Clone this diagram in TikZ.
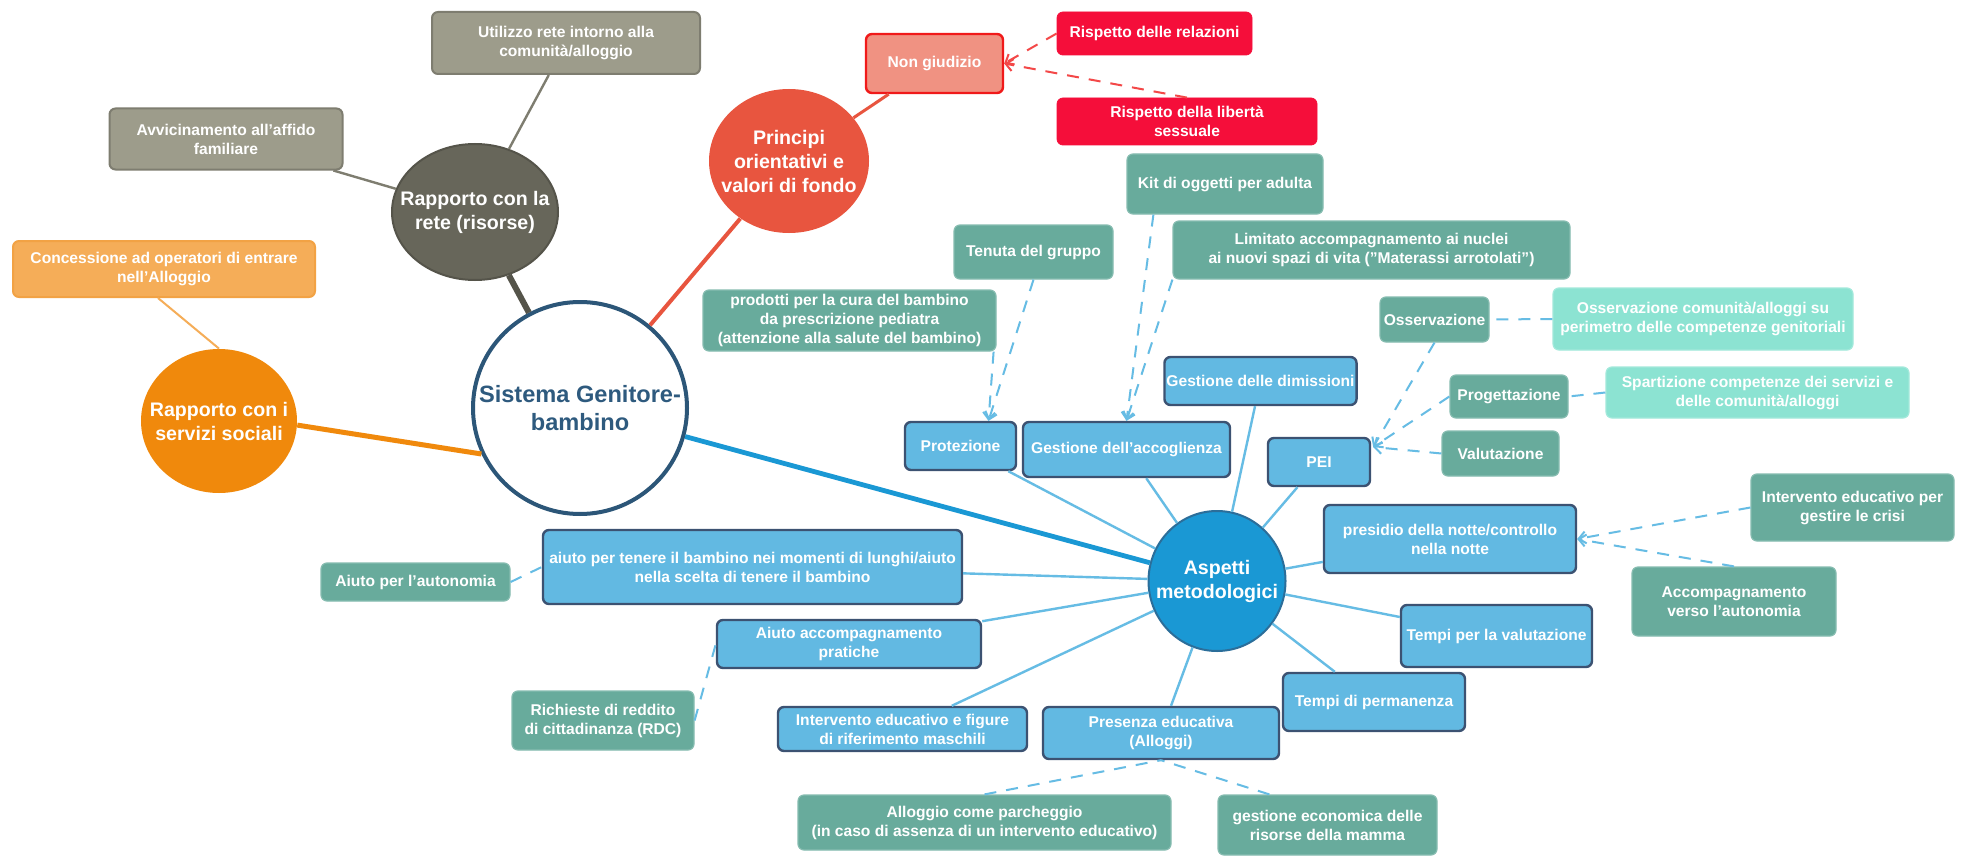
\documentclass[tikz,border=0pt]{standalone}
\usepackage{fontspec}
\setmainfont{Liberation Sans}
\usetikzlibrary{shapes.geometric, arrows.meta, calc}

\definecolor{GreyBox}{HTML}{9D9C8B}
\definecolor{GreyLine}{HTML}{7E7D70}
\definecolor{ReteFill}{HTML}{67665A}
\definecolor{ReteLine}{HTML}{55544A}
\definecolor{MapOrange}{HTML}{F0890C}
\definecolor{OrangeBox}{HTML}{F5AD58}
\definecolor{OrangeLine}{HTML}{F2A244}
\definecolor{PrincipiRed}{HTML}{E8553F}
\definecolor{Salmon}{HTML}{F09282}
\definecolor{SalmonLine}{HTML}{F01A1A}
\definecolor{Crimson}{HTML}{F50E3A}
\definecolor{Teal}{HTML}{68AB9C}
\definecolor{Aqua}{HTML}{8CE3D2}
\definecolor{BlueBox}{HTML}{62B9E2}
\definecolor{BlueLine}{HTML}{3C5272}
\definecolor{BlueLink}{HTML}{66BCE4}
\definecolor{AspettiBlue}{HTML}{1A98D4}
\definecolor{AspettiLine}{HTML}{2B6E9A}
\definecolor{SistemaLine}{HTML}{2C5678}
\definecolor{SistemaText}{HTML}{2E5A7E}

\begin{document}
\begin{tikzpicture}[x=0.5pt, y=-0.5pt,
    boxsize/.style 2 args={minimum width=#1*0.5pt, minimum height=#2*0.5pt},
    topic/.style={ellipse},
    topictext/.style={align=center, text=white, inner sep=0pt, font=\bfseries\fontsize{9.8}{12}\selectfont},
    leaf/.style={rectangle, rounded corners=3pt, align=center, text=white, inner sep=1pt, font=\bfseries\fontsize{7.8}{9.5}\selectfont},
    greybox/.style={leaf, fill=GreyBox, draw=GreyLine, line width=1pt},
    orangebox/.style={leaf, fill=OrangeBox, draw=OrangeLine, line width=1pt},
    redbox/.style={leaf, fill=Crimson, draw=Crimson},
    tealbox/.style={leaf, fill=Teal, draw=Teal!80!white, line width=0.6pt},
    aquabox/.style={leaf, fill=Aqua, draw=Aqua!80!white, line width=0.6pt},
    bluebox/.style={leaf, fill=BlueBox, draw=BlueLine, line width=1.2pt},
    spoke/.style={BlueLink, line width=1.2pt},
    dashspoke/.style={BlueLink, line width=1pt, dash pattern=on 6pt off 5pt},
    pointed/.style={-{Straight Barb[length=3.5pt, width=6pt]}}
  ]
  \fill[white] (0,0) rectangle (1965,856);
  \useasboundingbox (0,0) rectangle (1965,856);

  % Define centre
  \node[topic, draw=SistemaLine, line width=2pt, fill=white, boxsize={214}{212}] (Sistema) at (580,408) {};
  \node[topictext, text=SistemaText, font=\bfseries\fontsize{11.8}{14}\selectfont] (SistemaText) at (Sistema.center) {Sistema Genitore-\\bambino};

  % Define rete
  \node[topic, fill=ReteFill, draw=ReteLine, line width=1pt, boxsize={166}{136}] (Rete) at (475,212) {};
  \node[topictext] (ReteText) at (Rete.center) {Rapporto con la\\rete (risorse)};
  \node[greybox, boxsize={268}{62}] (Utilizzo) at (566,43) {Utilizzo rete intorno alla\\comunità/alloggio};
  \node[greybox, boxsize={233}{61}] (Avvicinamento) at (226,139) {Avvicinamento all'affido\\familiare};

  % Define servizi sociali
  \node[topic, fill=MapOrange, boxsize={156}{144}] (Servizi) at (219,421) {};
  \node[topictext] (ServiziText) at (Servizi.center) {Rapporto con i\\servizi sociali};
  \node[orangebox, boxsize={302}{56}] (Concessione) at (164,269) {Concessione ad operatori di entrare\\nell'Alloggio};

  % Define principi
  \node[topic, fill=PrincipiRed, boxsize={160}{144}] (Principi) at (789,161) {};
  \node[topictext] (PrincipiText) at (Principi.center) {Principi\\orientativi e\\valori di fondo};
  \node[leaf, fill=Salmon, draw=SalmonLine, line width=1.2pt, boxsize={137}{59}] (NonGiudizio) at (934.5,63.5) {Non giudizio};
  \node[redbox, boxsize={195}{43}] (RispRelazioni) at (1154.5,33.5) {Rispetto delle relazioni};
  \node[redbox, boxsize={260}{47}] (RispLiberta) at (1187,121.5) {Rispetto della libertà\\sessuale};

  % Define aspetti metodologici
  \node[topic, fill=AspettiBlue, draw=AspettiLine, line width=1pt, boxsize={137}{140}] (Aspetti) at (1217,581) {};
  \node[topictext] (AspettiText) at (Aspetti.center) {Aspetti\\metodologici};

  \node[bluebox, boxsize={111}{48}] (Protezione) at (960.5,446) {Protezione};
  \node[bluebox, boxsize={207}{55}] (Accoglienza) at (1126.5,449.5) {Gestione dell'accoglienza};
  \node[bluebox, boxsize={191}{48}] (Dimissioni) at (1260.5,381) {Gestione delle dimissioni};
  \node[bluebox, boxsize={102}{48}] (PEI) at (1319,462) {PEI};
  \node[bluebox, boxsize={252}{68}] (Presidio) at (1450,539) {presidio della notte/controllo\\nella notte};
  \node[bluebox, boxsize={191}{62}] (TempiVal) at (1496.5,636) {Tempi per la valutazione};
  \node[bluebox, boxsize={182}{58}] (TempiPerm) at (1374,702) {Tempi di permanenza};
  \node[bluebox, boxsize={236}{52}] (Presenza) at (1161,733) {Presenza educativa\\(Alloggi)};
  \node[bluebox, boxsize={249}{44}] (InterventoFig) at (902.5,729) {Intervento educativo e figure\\di riferimento maschili};
  \node[bluebox, boxsize={264}{48}] (AiutoAccomp) at (849,644) {Aiuto accompagnamento\\pratiche};
  \node[bluebox, boxsize={419}{74}] (AiutoTenere) at (752.5,567) {aiuto per tenere il bambino nei momenti di lunghi/aiuto\\nella scelta di tenere il bambino};

  % Define leaves of the blue boxes
  \node[tealbox, boxsize={196}{60}] (Kit) at (1225,184) {Kit di oggetti per adulta};
  \node[tealbox, boxsize={159}{54}] (Tenuta) at (1033.5,252) {Tenuta del gruppo};
  \node[tealbox, boxsize={397}{58}] (Limitato) at (1371.5,250) {Limitato accompagnamento ai nuclei\\ai nuovi spazi di vita ("Materassi arrotolati")};
  \node[tealbox, boxsize={293}{61}] (Prodotti) at (849.5,320.5) {prodotti per la cura del bambino\\da prescrizione pediatra\\(attenzione alla salute del bambino)};
  \node[tealbox, boxsize={109}{45}] (Osservazione) at (1434.5,319.5) {Osservazione};
  \node[tealbox, boxsize={118}{43}] (Progettazione) at (1509,396.5) {Progettazione};
  \node[tealbox, boxsize={117}{45}] (Valutazione) at (1500.5,453.5) {Valutazione};
  \node[aquabox, boxsize={300}{62}] (OssComunita) at (1703,319) {Osservazione comunità/alloggi su\\perimetro delle competenze genitoriali};
  \node[aquabox, boxsize={303}{51}] (Spartizione) at (1757.5,392.5) {Spartizione competenze dei servizi e\\delle comunità/alloggi};
  \node[tealbox, boxsize={203}{67}] (GestCrisi) at (1852.5,507.5) {Intervento educativo per\\gestire le crisi};
  \node[tealbox, boxsize={204}{69}] (AccAutonomia) at (1734,601.5) {Accompagnamento\\verso l'autonomia};
  \node[tealbox, boxsize={189}{38}] (AiutoAutonomia) at (415.5,582) {Aiuto per l'autonomia};
  \node[tealbox, boxsize={182}{59}] (Richieste) at (603,720.5) {Richieste di reddito\\di cittadinanza (RDC)};
  \node[tealbox, boxsize={373}{55}] (Parcheggio) at (984.5,822.5) {Alloggio come parcheggio\\(in caso di assenza di un intervento educativo)};
  \node[tealbox, boxsize={219}{60}] (GestEconomica) at (1327.5,825) {gestione economica delle\\risorse della mamma};

  % Main branches
  \draw[ReteLine, line width=3pt] (Rete) -- (Sistema);
  \draw[PrincipiRed, line width=2pt] (Principi) -- (Sistema);
  \draw[MapOrange, line width=2.5pt] (Servizi.-3) -- (Sistema.205);
  \draw[AspettiBlue, line width=2.4pt] (Sistema) -- (Aspetti);

  % Sub branches
  \draw[GreyLine, line width=1.2pt] (Rete) -- (Utilizzo);
  \draw[GreyLine, line width=1.2pt] (Rete) -- (Avvicinamento);
  \draw[OrangeBox, line width=1pt] ($(Concessione.south)+(-6,0)$) -- (Servizi.north);
  \draw[PrincipiRed, line width=1.5pt] (Principi) -- (NonGiudizio);
  \foreach \leafname in {Protezione, Accoglienza, Dimissioni, PEI, Presidio, TempiVal, TempiPerm, Presenza, InterventoFig, AiutoAccomp, AiutoTenere}
    \draw[spoke] (Aspetti) -- (\leafname);

  % Dashed links
  \coordinate (ProtIn) at ($(Protezione.north)+(28,0)$);
  \coordinate (PeiIn) at ($(PEI.east)+(2,-15)$);
  \draw[SalmonLine!80!white, line width=1pt, dash pattern=on 6pt off 5pt, pointed] (RispRelazioni.west) -- (NonGiudizio.east);
  \draw[SalmonLine!80!white, line width=1pt, dash pattern=on 6pt off 5pt, pointed] (RispLiberta.north) -- (NonGiudizio.east);
  \draw[dashspoke, pointed] (Tenuta.south) -- (ProtIn);
  \draw[dashspoke, pointed] ($(Prodotti.south east)+(-3,0)$) -- (ProtIn);
  \draw[dashspoke, pointed] ($(Kit.south west)+(27,0)$) -- (Accoglienza.north);
  \draw[dashspoke, pointed] (Limitato.south west) -- (Accoglienza.north);
  \draw[dashspoke, pointed] (Osservazione.south) -- (PeiIn);
  \draw[dashspoke, pointed] (Progettazione.west) -- (PeiIn);
  \draw[dashspoke, pointed] (Valutazione.west) -- (PeiIn);
  \draw[dashspoke] (OssComunita.west) -- (Osservazione.east);
  \draw[dashspoke] (Spartizione.west) -- (Progettazione.east);
  \draw[dashspoke, pointed] (GestCrisi.west) -- (Presidio.east);
  \draw[dashspoke, pointed] (AccAutonomia.north) -- (Presidio.east);
  \draw[dashspoke] (Parcheggio.north) -- (Presenza.south);
  \draw[dashspoke] ($(GestEconomica.north west)+(52,0)$) -- (Presenza.south);
  \draw[dashspoke] (AiutoAutonomia.east) -- (AiutoTenere.west);
  \draw[dashspoke] (Richieste.east) -- (AiutoAccomp.west);
\end{tikzpicture}
\end{document}
